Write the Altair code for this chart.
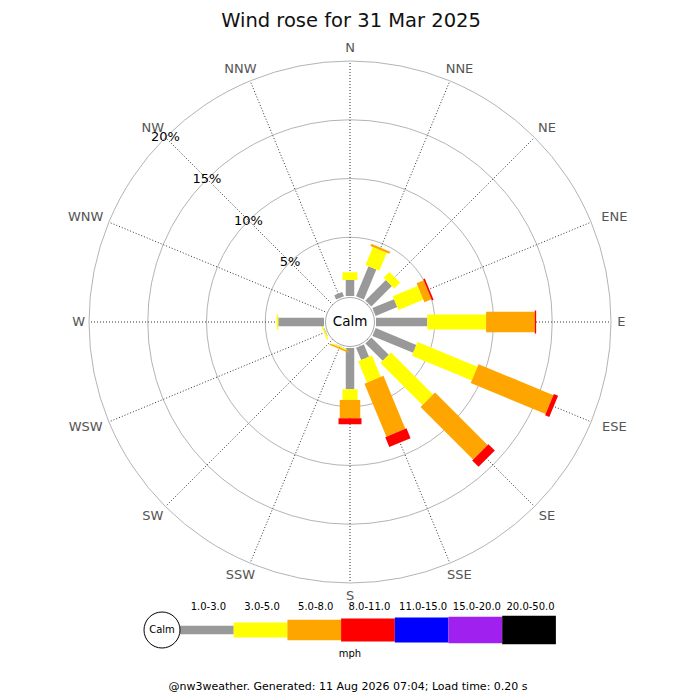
import altair as alt
import pandas as pd

# ---------------- data ----------------
directions = ["N", "NNE", "NE", "ENE", "E", "ESE", "SE", "SSE",
              "S", "SSW", "SW", "WSW", "W", "WNW", "NW", "NNW"]
bands = ["1.0-3.0", "3.0-5.0", "5.0-8.0", "8.0-11.0", "11.0-15.0", "15.0-20.0", "20.0-50.0"]
band_colors = ["#999999", "#ffff00", "#ffa500", "#ff0000", "#0000ff", "#a020f0", "#000000"]
band_widths = [8.5, 15, 20.5, 23, 25, 26.7, 28.3]

# percentage of time per direction and speed band (mph)
pct_1_3 = [1.36, 2.77, 2.47, 1.99, 4.37, 3.75, 2.09, 1.14, 3.51, 0.03, 0, 0.05, 3.89, 0, 0, 0.4]
pct_3_5 = [0.66, 1.66, 0.71, 2.29, 5.00, 5.52, 5.06, 1.97, 0.91, 0.10, 0, 0.12, 0.13, 0, 0, 0]
pct_5_8 = [0, 0.20, 0, 0.66, 4.14, 6.89, 6.32, 4.88, 1.56, 0.12, 0, 0, 0, 0, 0, 0]
pct_8_11 = [0, 0, 0, 0.14, 0.12, 0.39, 0.77, 0.90, 0.51, 0, 0, 0, 0, 0, 0, 0]
pct_11_15 = [0] * 16
pct_15_20 = [0] * 16
pct_20_50 = [0] * 16

ring_pcts = [5, 10, 15, 20]
ring_labels = ["5%", "10%", "15%", "20%"]

title_text = "Wind rose for 31 Mar 2025"
footer_text = "@nw3weather. Generated: 11 Aug 2026 07:04; Load time: 0.20 s"
unit_text = "mph"
calm_text = "Calm"

# ---------------- geometry ----------------
K = 11.75            # pixels per percent
CALM_PX = 26.0       # calm circle radius in px (bars start here)
OFF = CALM_PX / K    # radial offset in percent units
W = H = 684
CX, CY = 342, 314    # centre inside the view (page 350,322)

def ux(px_page):
    return (px_page - 350) / K

def uy(py_page):
    return (322 - py_page) / K

xs = alt.Scale(domain=[-CX / K, (W - CX) / K], nice=False, zero=False)
ys = alt.Scale(domain=[-(H - CY) / K, CY / K], nice=False, zero=False)
FONT = "DejaVu Sans"
WIDTH_EXPR = "[" + ",".join(str(w) for w in band_widths) + "][datum.order]"

# bars table
series = [pct_1_3, pct_3_5, pct_5_8, pct_8_11, pct_11_15, pct_15_20, pct_20_50]
rows = []
for d, name in enumerate(directions):
    cum = 0.0
    for b, band in enumerate(bands):
        v = series[b][d]
        if v > 0:
            rows.append({"dir": name, "angle": d * 22.5, "band": band,
                         "r0": OFF + cum, "r1": OFF + cum + v, "order": b})
        cum += v
bars_df = pd.DataFrame(rows)

dirs_df = pd.DataFrame({"dir": directions, "angle": [i * 22.5 for i in range(16)]})
rings_df = pd.DataFrame({"pct": ring_pcts, "label": ring_labels})
legend_df = pd.DataFrame({"band": bands, "order": list(range(len(bands)))})

X = lambda f: alt.X(f, scale=xs, axis=None)
Y = lambda f: alt.Y(f, scale=ys, axis=None)
color_enc = alt.Color("band:N", scale=alt.Scale(domain=bands, range=band_colors), legend=None)

# rings: circle symbols whose diameter follows the radial scale
rings = alt.Chart(rings_df).transform_calculate(
    cx="0", cy="0",
    sz=f"pow(2*(datum.pct + {OFF})*{K}, 2)"
).mark_point(shape="circle", filled=False, stroke="#b4b4b4", strokeWidth=1, opacity=1).encode(
    x=X("cx:Q"), y=Y("cy:Q"), size=alt.Size("sz:Q", scale=None, legend=None)
)

spokes = alt.Chart(dirs_df).transform_calculate(
    x0="0", y0="0",
    x1=f"{OFF + 20}*sin(datum.angle*PI/180)",
    y1=f"{OFF + 20}*cos(datum.angle*PI/180)",
).mark_rule(color="#333333", strokeWidth=1, strokeDash=[1, 2]).encode(
    x=X("x0:Q"), y=Y("y0:Q"), x2="x1:Q", y2="y1:Q"
)

one = pd.DataFrame({"c": [calm_text]})

calm = alt.Chart(one).transform_calculate(
    cx="0", cy="0", sz=f"pow(2*24.5, 2)"
).mark_point(shape="circle", filled=True, fill="white", stroke="#aaaaaa", strokeWidth=1, opacity=1).encode(
    x=X("cx:Q"), y=Y("cy:Q"), size=alt.Size("sz:Q", scale=None, legend=None)
)

calm_label = alt.Chart(one).transform_calculate(cx="0", cy="0").mark_text(
    font=FONT, fontSize=13.5, color="black", align="center", baseline="middle"
).encode(x=X("cx:Q"), y=Y("cy:Q"), text="c:N")

bars = alt.Chart(bars_df).transform_calculate(
    x0="datum.r0*sin(datum.angle*PI/180)",
    y0="datum.r0*cos(datum.angle*PI/180)",
    x1="datum.r1*sin(datum.angle*PI/180)",
    y1="datum.r1*cos(datum.angle*PI/180)",
    sw=WIDTH_EXPR,
).mark_rule(strokeCap="butt").encode(
    x=X("x0:Q"), y=Y("y0:Q"), x2="x1:Q", y2="y1:Q",
    color=color_enc,
    strokeWidth=alt.StrokeWidth("sw:Q", scale=None, legend=None),
)

dir_labels = alt.Chart(dirs_df).transform_calculate(
    lx=f"(264 + 1.7*length(datum.dir)*4.33)*sin(datum.angle*PI/180)/{K}",
    ly=f"274*cos(datum.angle*PI/180)/{K}",
).mark_text(font=FONT, fontSize=13, color="#555555", align="center", baseline="middle").encode(
    x=X("lx:Q"), y=Y("ly:Q"), text="dir:N"
)

pct_labels = alt.Chart(rings_df).transform_calculate(
    lx=f"(datum.pct + {OFF})*sin(315*PI/180)",
    ly=f"(datum.pct + {OFF})*cos(315*PI/180)",
).mark_text(font=FONT, fontSize=13, color="black", align="center", baseline="middle").encode(
    x=X("lx:Q"), y=Y("ly:Q"), text="label:N"
)

def text_layer(txt, px, py, size, color="black", baseline="middle"):
    return alt.Chart(pd.DataFrame({"t": [txt]})).transform_calculate(
        tx=f"{ux(px)}", ty=f"{uy(py)}"
    ).mark_text(font=FONT, fontSize=size, color=color, align="center", baseline=baseline).encode(
        x=X("tx:Q"), y=Y("ty:Q"), text="t:N"
    )

title = text_layer(title_text, 351, 26.5, 19.5, "#111111", baseline="alphabetic")

# ---------------- legend ----------------
LEG_X0, LEG_STEP, LEG_Y = 180, 53.7, 630
leg_bars = alt.Chart(legend_df).transform_calculate(
    x0=f"({LEG_X0} + {LEG_STEP}*datum.order - 350)/{K}",
    x1=f"({LEG_X0} + {LEG_STEP}*(datum.order+1) - 350)/{K}",
    y0=f"{uy(LEG_Y)}",
    sw=WIDTH_EXPR,
).mark_rule(strokeCap="butt").encode(
    x=X("x0:Q"), x2="x1:Q", y=Y("y0:Q"),
    color=color_enc,
    strokeWidth=alt.StrokeWidth("sw:Q", scale=None, legend=None),
)
leg_labels = alt.Chart(legend_df).transform_calculate(
    lx=f"({LEG_X0} + {LEG_STEP}*(datum.order+0.5) + 1.5 - 350)/{K}",
    ly=f"{uy(607)}",
).mark_text(font=FONT, fontSize=10, color="black", align="center", baseline="middle").encode(
    x=X("lx:Q"), y=Y("ly:Q"), text="band:N"
)
leg_calm = alt.Chart(one).transform_calculate(
    cx=f"{ux(162)}", cy=f"{uy(LEG_Y)}", sz="pow(36, 2)"
).mark_point(shape="circle", filled=True, fill="white", stroke="black", strokeWidth=1, opacity=1).encode(
    x=X("cx:Q"), y=Y("cy:Q"), size=alt.Size("sz:Q", scale=None, legend=None)
)
leg_calm_text = text_layer(calm_text, 162, LEG_Y, 10)
mph = text_layer(unit_text, 350, 654, 10)
footer = text_layer(footer_text, 348, 687, 11)

chart = alt.layer(
    rings, spokes, calm, bars, calm_label, dir_labels, pct_labels, title,
    leg_bars, leg_calm, leg_calm_text, leg_labels, mph, footer
).properties(
    width=W, height=H, autosize=alt.AutoSizeParams(type="none"), padding=0,
    background="white"
).configure_view(strokeWidth=0)

chart.save("out.html", embed_options={"renderer": "svg", "actions": False})
